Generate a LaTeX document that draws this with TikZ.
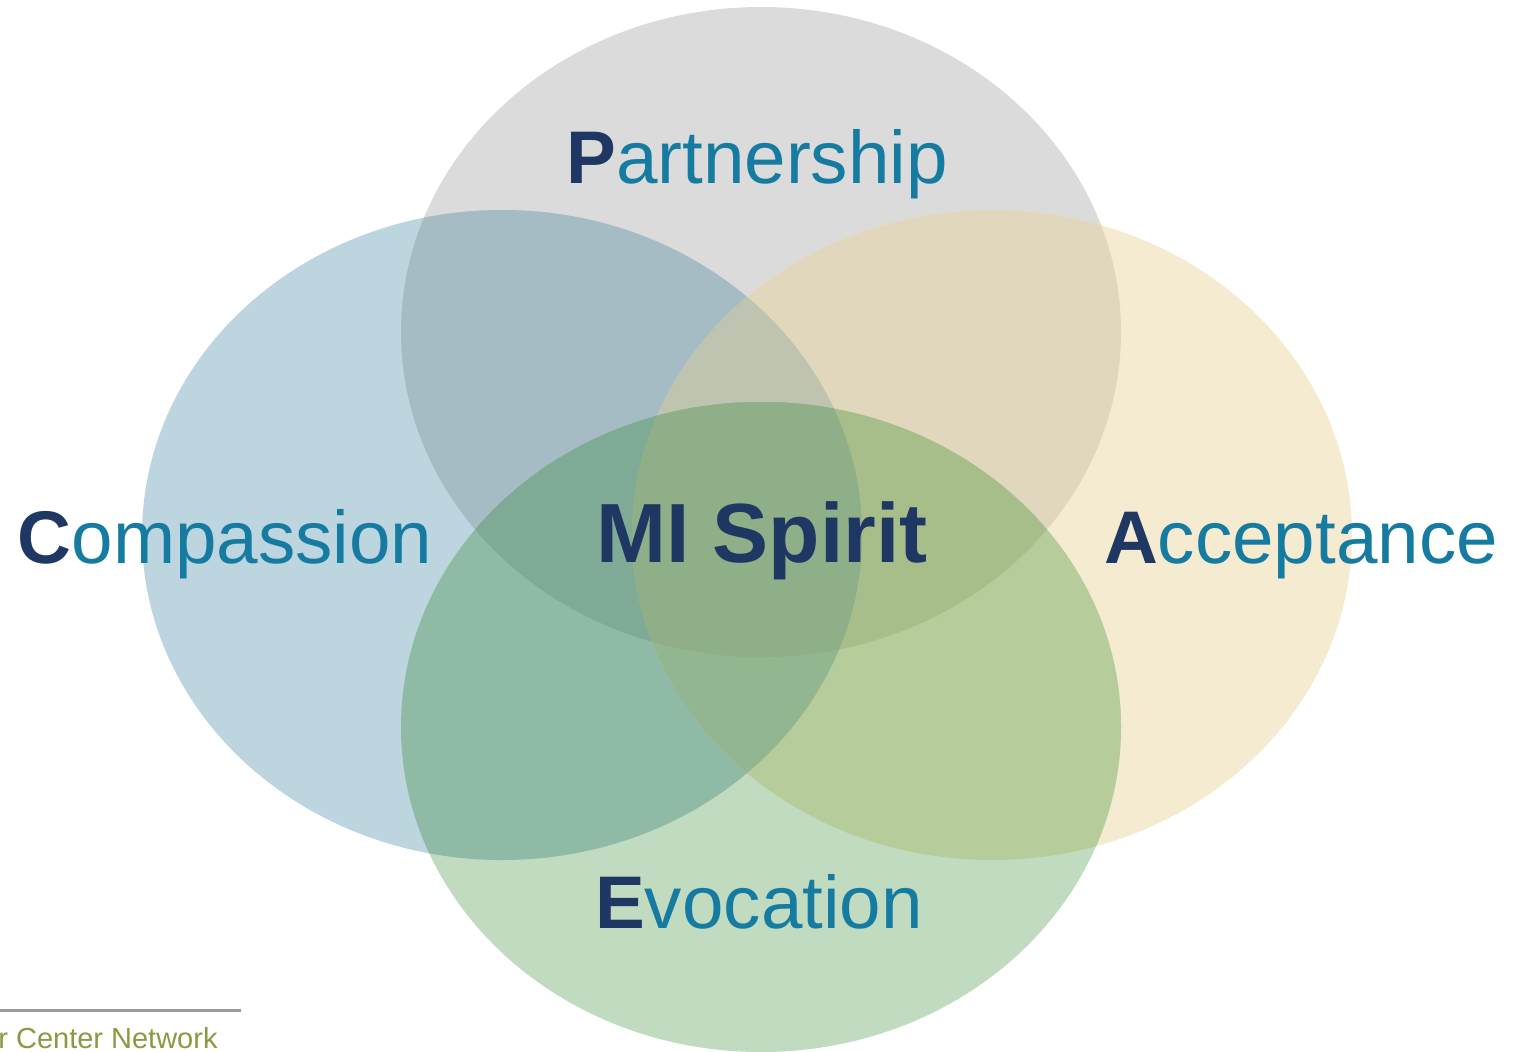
\documentclass[tikz,border=0pt]{standalone}
\usepackage{fontspec}
\setmainfont{Liberation Sans}
\definecolor{cGray}{HTML}{DBDBDB}
\definecolor{cBlue}{HTML}{BCD5DF}
\definecolor{cYel}{HTML}{F5EBD1}
\definecolor{cGrn}{HTML}{C1DBC0}
\definecolor{cGB}{HTML}{A5BCC5}
\definecolor{cGY}{HTML}{E0D7BD}
\definecolor{cBY}{HTML}{B9C8B8}
\definecolor{cGG}{HTML}{A9C2AC}
\definecolor{cBG}{HTML}{8FBAA5}
\definecolor{cYG}{HTML}{B6CD9B}
\definecolor{cGBY}{HTML}{BEC4AF}
\definecolor{cGBG}{HTML}{7FAA96}
\definecolor{cGYG}{HTML}{A7BE8B}
\definecolor{cBYG}{HTML}{92B68F}
\definecolor{cAll}{HTML}{8EAF87}
\definecolor{navy}{HTML}{1F3763}
\definecolor{tealtext}{HTML}{167BA1}
\definecolor{olive}{HTML}{8A9A43}
\definecolor{rulegray}{HTML}{9B9B9B}
\tikzset{
  ell/.style={x radius=360, y radius=325},
  word/.style={font=\fontsize{37.3}{44}\selectfont, text=tealtext, anchor=base, inner sep=0pt},
  core/.style={font=\fontsize{42}{50}\selectfont\bfseries, text=navy, anchor=base, inner sep=0pt},
  footer/.style={font=\fontsize{14.5}{17}\selectfont, text=olive, anchor=base west, inner sep=0pt}
}
\newcommand{\initial}[1]{{\bfseries\color{navy}#1}}
\begin{document}
\begin{tikzpicture}[x=0.5pt, y=-0.5pt]
\useasboundingbox (0,0) rectangle (1524,1051);
\coordinate (P) at (761,332);
\coordinate (C) at (502,535);
\coordinate (A) at (992,535);
\coordinate (E) at (761,727);
% single circles
\fill[cGray] (P) ellipse [ell];
\fill[cBlue] (C) ellipse [ell];
\fill[cYel] (A) ellipse [ell];
\fill[cGrn] (E) ellipse [ell];
% pairwise overlaps
\begin{scope}\clip (P) ellipse [ell]; \fill[cGB] (C) ellipse [ell]; \end{scope}
\begin{scope}\clip (P) ellipse [ell]; \fill[cGY] (A) ellipse [ell]; \end{scope}
\begin{scope}\clip (P) ellipse [ell]; \fill[cGG] (E) ellipse [ell]; \end{scope}
\begin{scope}\clip (C) ellipse [ell]; \fill[cBY] (A) ellipse [ell]; \end{scope}
\begin{scope}\clip (C) ellipse [ell]; \fill[cBG] (E) ellipse [ell]; \end{scope}
\begin{scope}\clip (A) ellipse [ell]; \fill[cYG] (E) ellipse [ell]; \end{scope}
% triple overlaps
\begin{scope}\clip (P) ellipse [ell]; \clip (C) ellipse [ell]; \fill[cGBY] (A) ellipse [ell]; \end{scope}
\begin{scope}\clip (P) ellipse [ell]; \clip (C) ellipse [ell]; \fill[cGBG] (E) ellipse [ell]; \end{scope}
\begin{scope}\clip (P) ellipse [ell]; \clip (A) ellipse [ell]; \fill[cGYG] (E) ellipse [ell]; \end{scope}
\begin{scope}\clip (C) ellipse [ell]; \clip (A) ellipse [ell]; \fill[cBYG] (E) ellipse [ell]; \end{scope}
% common centre
\begin{scope}\clip (P) ellipse [ell]; \clip (C) ellipse [ell]; \clip (A) ellipse [ell]; \fill[cAll] (E) ellipse [ell]; \end{scope}
% labels
\node[word] (tP) at (757,183) {\initial{P}artnership};
\node[word] (tC) at (225,563) {\initial{C}ompassion};
\node[word] (tA) at (1301,563) {\initial{A}cceptance};
\node[word] (tE) at (759,928) {\initial{E}vocation};
\node[core] (tM) at (762,562) {MI Spirit};
% footer
\coordinate (r0) at (0,1010);
\coordinate (r1) at (241,1010);
\draw[rulegray, line width=1.5pt] (r0) -- (r1);
\node[footer] (ft) at (-2,1048) {r Center Network};
\end{tikzpicture}
\end{document}
